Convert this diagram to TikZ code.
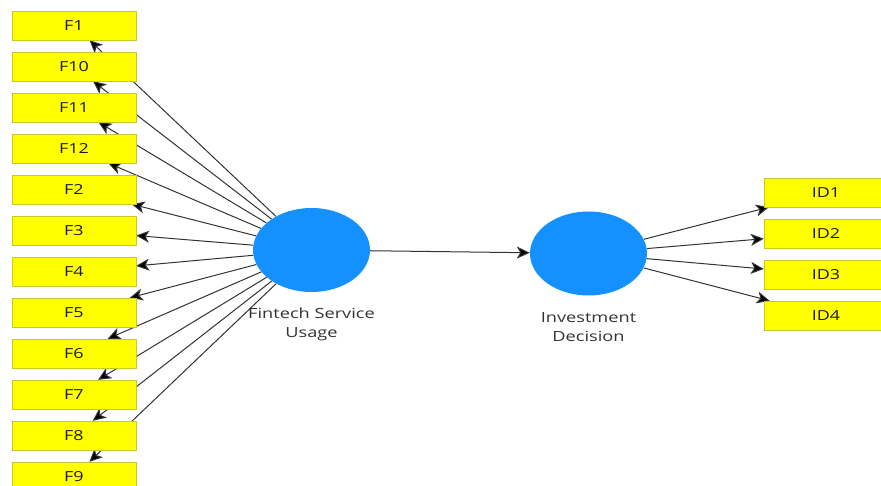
\documentclass[tikz,border=0pt]{standalone}
\usepackage{fontspec}
\setmainfont{Open Sans}[FakeStretch=1.3]
\usepackage{tikz}
\usetikzlibrary{positioning, arrows.meta, backgrounds, shapes.geometric}

\definecolor{indyellow}{RGB}{255,255,0}
\definecolor{indborder}{RGB}{200,200,40}
\definecolor{lvblue}{RGB}{20,145,255}

\tikzset{
    indicator/.style={draw=indborder, fill=indyellow, minimum width=124pt,
        minimum height=29pt, inner sep=0pt, text=black!90,
        font=\fontsize{13.8}{15}\selectfont},
    latent/.style={ellipse, fill=lvblue, minimum width=117pt,
        minimum height=84pt, inner sep=0pt},
    lvlabel/.style={align=center, text=black!80,
        font=\fontsize{14}{19}\selectfont},
    loading/.style={draw=black!80, line width=1pt,
        -{Stealth[length=13pt, width=12pt, inset=3.5pt]}}
}

\begin{document}
\begin{tikzpicture}[x=1pt, y=-1pt, node distance=11.6pt]
        \useasboundingbox (0,0) rectangle (881,486);
        \clip (0,0) rectangle (881,486);

        % outer loadings of the first construct
        \node[indicator]                  (F1)  at (74,25.5) {F1};
        \node[indicator, below=of F1]     (F10) {F10};
        \node[indicator, below=of F10]    (F11) {F11};
        \node[indicator, below=of F11]    (F12) {F12};
        \node[indicator, below=of F12]    (F2)  {F2};
        \node[indicator, below=of F2]     (F3)  {F3};
        \node[indicator, below=of F3]     (F4)  {F4};
        \node[indicator, below=of F4]     (F5)  {F5};
        \node[indicator, below=of F5]     (F6)  {F6};
        \node[indicator, below=of F6]     (F7)  {F7};
        \node[indicator, below=of F7]     (F8)  {F8};
        \node[indicator, below=of F8]     (F9)  {F9};

        \node[latent] (FSU) at (311.5,250) {};
        \node[latent] (ID)  at (588.5,253.5) {};
        \node[lvlabel, below=12pt of FSU] (FSUlabel) {Fintech Service\\Usage};
        \node[lvlabel, below=13pt of ID]  (IDlabel)  {Investment\\Decision};

        % indicators of the second construct
        \node[indicator]                  (ID1) at (826,192.5) {ID1};
        \node[indicator, below=of ID1]    (ID2) {ID2};
        \node[indicator, below=of ID2]    (ID3) {ID3};
        \node[indicator, below=of ID3]    (ID4) {ID4};

        \begin{scope}[on background layer]
        \draw[loading]
            (FSU) edge (F1)
            (FSU) edge (F10)
            (FSU) edge (F11)
            (FSU) edge (F12)
            (FSU) edge (F2)
            (FSU) edge (F3)
            (FSU) edge (F4)
            (FSU) edge (F5)
            (FSU) edge (F6)
            (FSU) edge (F7)
            (FSU) edge (F8)
            (FSU) edge (F9)
            (FSU) edge (ID)
            (ID)  edge (ID1)
            (ID)  edge (ID2)
            (ID)  edge (ID3)
            (ID)  edge (ID4)
            ;
        \end{scope}
\end{tikzpicture}
\end{document}
